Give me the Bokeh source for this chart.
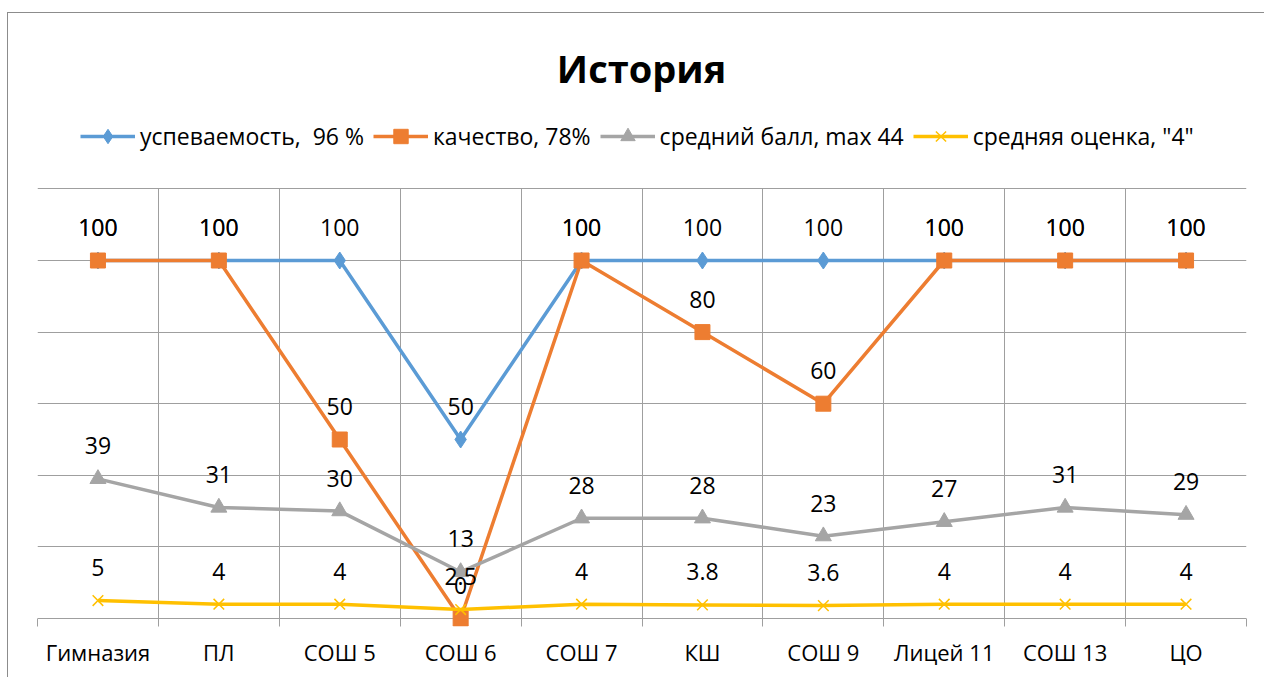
from bokeh.plotting import figure
from bokeh.models import (Range1d, FixedTicker, Label, LabelSet, ColumnDataSource,
                          Legend, LegendItem)
from bokeh.core.properties import value
from bokeh.embed import file_html
from bokeh.resources import INLINE

# ---- data ----
title_text = "История"
categories = ["Гимназия", "ПЛ", "СОШ 5", "СОШ 6", "СОШ 7", "КШ", "СОШ 9",
              "Лицей 11", "СОШ 13", "ЦО"]
uspevaemost = [100, 100, 100, 50, 100, 100, 100, 100, 100, 100]
kachestvo = [100, 100, 50, 0, 100, 80, 60, 100, 100, 100]
sredniy_ball = [39, 31, 30, 13, 28, 28, 23, 27, 31, 29]
srednyaya_ocenka = [5, 4, 4, 2.5, 4, 3.8, 3.6, 4, 4, 4]
series_names = ["успеваемость,  96 %", "качество, 78%", "средний балл, max 44",
                'средняя оценка, "4"']
y_ticks = [0, 20, 40, 60, 80, 100, 120]
y_top = 120

FONT = "Open Sans"
GRID = "#9f9f9f"

W, H = 1257, 665
ABOVE_PX = 605                     # px from chart top to the zero line
BELOW_PX = 8                       # frame continues 8px below zero (tick marks)
PX_PER_UNIT = 3.58
p = figure(width=W, height=H, output_backend="svg", toolbar_location=None,
           x_range=Range1d(0, len(categories)),
           y_range=Range1d(-BELOW_PX / PX_PER_UNIT, ABOVE_PX / PX_PER_UNIT),
           y_axis_location=None,
           min_border_left=29, min_border_right=19, min_border_top=0,
           min_border_bottom=H - ABOVE_PX - BELOW_PX)
p.styles = {"margin-left": "7px", "margin-top": "12px",
            "border-top": "1px solid #8c8c8c", "border-left": "1px solid #8c8c8c"}
p.outline_line_color = None
p.background_fill_color = "white"
p.border_fill_color = "white"

# grids (limited to the plot area 0..120)
centers = [i + 0.5 for i in range(len(categories))]
bounds = list(range(len(categories) + 1))
p.xgrid.ticker = FixedTicker(ticks=bounds)
p.xgrid.cross_bounds = (0, y_top)
p.ygrid.ticker = FixedTicker(ticks=y_ticks)
p.xgrid.grid_line_color = GRID
p.ygrid.grid_line_color = GRID
p.xgrid.grid_line_width = 1
p.ygrid.grid_line_width = 1

# x axis (the zero grid line serves as axis line; tick marks point up to it)
ax = p.xaxis[0]
ax.ticker = FixedTicker(ticks=centers, minor_ticks=bounds)
ax.major_label_overrides = {c: lab for c, lab in zip(centers, categories)}
ax.major_tick_line_color = None
ax.major_tick_out = 0
ax.major_tick_in = 0
ax.minor_tick_line_color = GRID
ax.minor_tick_out = 0
ax.minor_tick_in = BELOW_PX
ax.axis_line_color = None
ax.major_label_standoff = 10
ax.major_label_text_font = FONT
ax.major_label_text_font_size = "22px"
ax.major_label_text_color = "black"

colors = ["#5B9BD5", "#ED7D31", "#A5A5A5", "#FFC000"]
markers = ["diamond", "square", "triangle", "x"]
msizes = [17, 15, 16, 15]
all_series = [uspevaemost, kachestvo, sredniy_ball, srednyaya_ocenka]

items = []
for name, vals, col, mk, ms in zip(series_names, all_series, colors, markers, msizes):
    src = ColumnDataSource(dict(x=centers, y=vals))
    lr = p.line("x", "y", source=src, line_color=col, line_width=3.5, line_join="round")
    if mk == "x":
        sr = p.scatter("x", "y", source=src, marker=mk, size=ms, line_color=col,
                       line_width=1.5)
    else:
        sr = p.scatter("x", "y", source=src, marker=mk, size=ms, fill_color=col,
                       line_color=col)
    items.append(LegendItem(label=name, renderers=[lr, sr]))

for vals in all_series:
    src = ColumnDataSource(dict(x=centers, y=vals, t=[f"{v:g}" for v in vals]))
    ls = LabelSet(x="x", y="y", text="t", source=src, y_offset=33,
                  text_align="center", text_baseline="middle",
                  text_font=value(FONT), text_font_size="23px", text_color="black")
    p.add_layout(ls)

legend = Legend(items=items, orientation="horizontal", location=(43, 472),
                glyph_width=55, glyph_height=36, label_standoff=5, spacing=9,
                padding=0, margin=0, border_line_color=None,
                background_fill_alpha=0, label_text_font=FONT,
                label_text_font_size="23px", label_text_color="black")
p.add_layout(legend, "center")

title = Label(x=604, y=559, x_units="screen", y_units="screen", text=title_text,
              text_font=FONT, text_font_size="38px", text_font_style="bold",
              text_align="center", text_baseline="middle", text_color="black")
p.add_layout(title)

open("out.html", "w").write(file_html(p, INLINE))
